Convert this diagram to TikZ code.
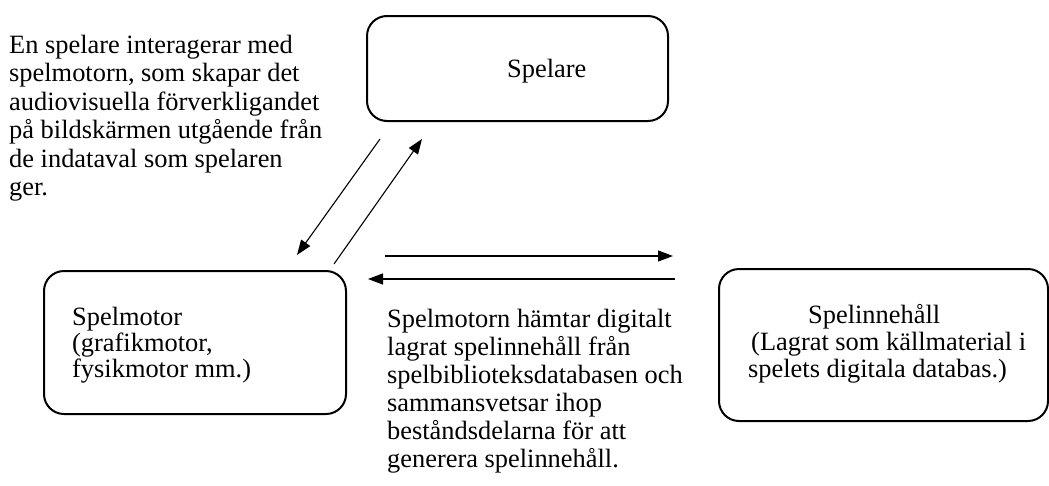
\documentclass[tikz,border=0pt]{standalone}
\usepackage{fontspec}
\setmainfont{Liberation Serif}
\usetikzlibrary{arrows.meta}
\newcommand{\firstline}{\rule{0pt}{20pt}}
\begin{document}
\begin{tikzpicture}[x=1pt,y=-1pt,
  box/.style={draw, line width=2pt, rounded corners=20pt, inner sep=0pt, anchor=north west},
  txt/.style={inner sep=0pt, align=left, anchor=north west},
  conn/.style={line width=1.1pt, -{Triangle[length=15pt,width=11pt]}}]
\useasboundingbox (0,0) rectangle (1049,485);
% boxes
\node[box, minimum width=301pt, minimum height=105pt] (spelare) at (366,15) {};
\node[box, minimum width=302pt, minimum height=143pt] (motor) at (43,270) {};
\node[box, minimum width=329pt, minimum height=152pt] (innehall) at (718,268) {};
% texts
\node[txt, anchor=base west, font=\fontsize{26.4}{28}\selectfont] (spelaretxt) at (507,77) {Spelare};
\node[txt, font=\fontsize{26.4}{28.4}\selectfont] (intro) at (9,33.3) {\firstline En spelare interagerar med\\spelmotorn, som skapar det\\audiovisuella förverkligandet\\på bildskärmen utgående från\\de indataval som spelaren\\ger.};
\node[txt, font=\fontsize{26.4}{26}\selectfont] (motortxt) at (72,305) {\firstline Spelmotor\\(grafikmotor,\\fysikmotor mm.)};
\node[txt, font=\fontsize{26.4}{27}\selectfont] (innehalltxt) at (748,303) {\firstline\hspace*{60pt}Spelinnehåll\\\hspace*{3pt}(Lagrat som källmaterial i\\spelets digitala databas.)};
\node[txt, font=\fontsize{26.4}{28}\selectfont] (mitten) at (387,307) {\firstline Spelmotorn hämtar digitalt\\lagrat spelinnehåll från\\spelbiblioteksdatabasen och\\sammansvetsar ihop\\beståndsdelarna för att\\generera spelinnehåll.};
% connector end points
\coordinate (a1s) at (380,139);
\coordinate (a1e) at (297,255);
\coordinate (a2s) at (334,264);
\coordinate (a2e) at (422,139);
\coordinate (h1s) at (385,256);
\coordinate (h1e) at (673,256);
\coordinate (h2s) at (675,279);
\coordinate (h2e) at (368,279);
\draw[conn] (a1s) -- (a1e);
\draw[conn] (a2s) -- (a2e);
\draw[conn] (h1s) -- (h1e);
\draw[conn] (h2s) -- (h2e);
\end{tikzpicture}
\end{document}
